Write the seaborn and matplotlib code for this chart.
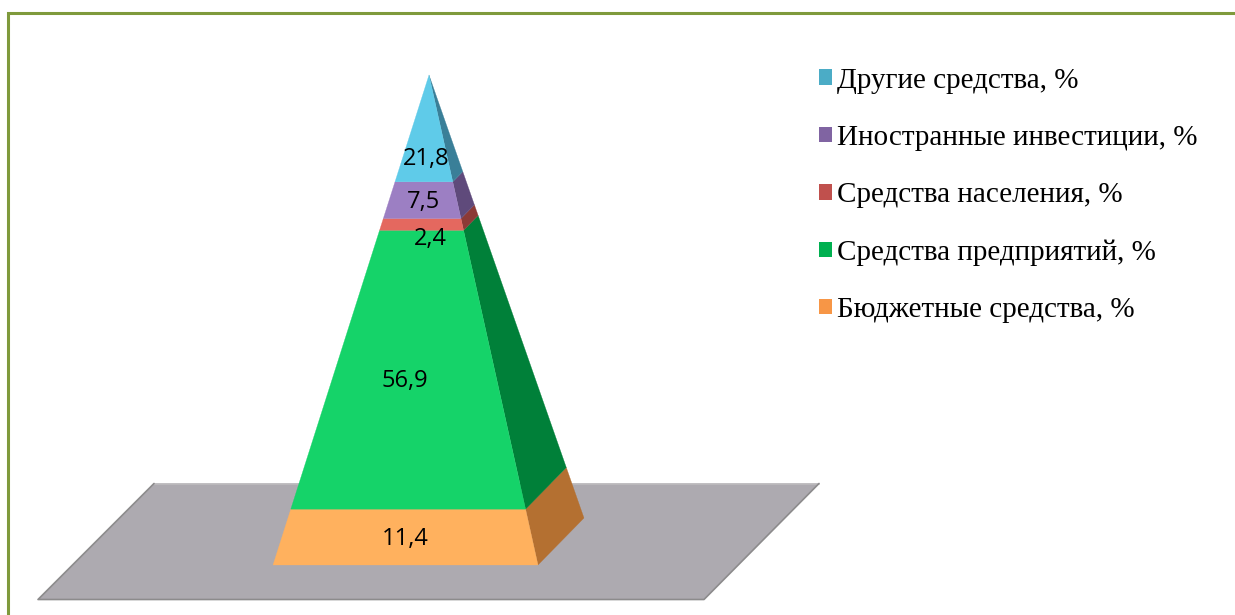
import numpy as np
import matplotlib
matplotlib.use("Agg")
import matplotlib.pyplot as plt
from matplotlib.patches import Patch, Polygon
import seaborn as sns

# ---- data (bottom to top of the pyramid) ----
categories = ["Бюджетные средства, %", "Средства предприятий, %", "Средства населения, %",
              "Иностранные инвестиции, %", "Другие средства, %"]
values = [11.4, 56.9, 2.4, 7.5, 21.8]
value_labels = ["11,4", "56,9", "2,4", "7,5", "21,8"]

# ---- style ----
front_colors = ["#FFB15E", "#15D369", "#E4685F", "#9C7FC3", "#5FCBE9"]
side_colors = ["#B47031", "#008039", "#8C3A36", "#5F4A7B", "#3A7F98"]
legend_colors = ["#F79646", "#00B050", "#C0504D", "#8064A2", "#4BACC6"]
label_x = [405, 405, 430, 424, 426]
label_y_px = [539, 381, 239, 202, 159]

W, H, DPI = 1235, 615, 100
Y0_PX, APEX_PX = 565, 75
PX_PER_PCT = (Y0_PX - APEX_PX) / 100
APEX_X, FL_X, FR_X, BR_X, BR_Y_PX = 429, 273, 538, 584, 518


def pct(y_px):
    return (Y0_PX - y_px) / PX_PER_PCT


sns.set_theme(style="white")
plt.rcParams["font.family"] = ["Open Sans", "DejaVu Sans"]

fig = plt.figure(figsize=(W / DPI, H / DPI), dpi=DPI, facecolor="white")
ax = fig.add_axes([0, 0, 1, 1])
ax.set_xlim(0, W)
ax.set_ylim(pct(H), pct(0))
ax.axis("off")

# outer frame, running off the right and bottom
ax.plot([8, 8, W + 5], [pct(H + 5), pct(12.5), pct(12.5)], color="#7F9A3C", lw=2.2,
        solid_joinstyle="miter", zorder=1)

# floor
floor_px = [(38, 599.5), (704, 599.5), (819, 483.5), (154, 483.5)]
floor = np.array([(x, pct(y)) for x, y in floor_px])
ax.add_patch(Polygon(floor, closed=True, facecolor="#ADAAB0", edgecolor="none", zorder=2))
ax.plot(floor[[3, 2], 0], floor[[3, 2], 1], color="#BDBBBE", lw=1.2, zorder=2)
ax.plot(floor[[3, 0, 1, 2], 0], floor[[3, 0, 1, 2], 1], color="#8C8B8C", lw=1.2, zorder=2)

# pyramid layers, from the cumulative shares
edges = np.concatenate([[0], np.cumsum(values)])
total = edges[-1]
back0 = pct(BR_Y_PX)


def lerp(a, b, t):
    return a + (b - a) * t


for i, (lo, hi) in enumerate(zip(edges[:-1], edges[1:])):
    t0, t1 = lo / total, hi / total
    front = [(lerp(FL_X, APEX_X, t0), 100 * t0), (lerp(FR_X, APEX_X, t0), 100 * t0),
             (lerp(FR_X, APEX_X, t1), 100 * t1), (lerp(FL_X, APEX_X, t1), 100 * t1)]
    side = [(lerp(FR_X, APEX_X, t0), 100 * t0), (lerp(BR_X, APEX_X, t0), lerp(back0, 100, t0)),
            (lerp(BR_X, APEX_X, t1), lerp(back0, 100, t1)), (lerp(FR_X, APEX_X, t1), 100 * t1)]
    ax.add_patch(Polygon(side, closed=True, facecolor=side_colors[i], edgecolor=side_colors[i],
                         lw=0.2, zorder=3))
    ax.add_patch(Polygon(front, closed=True, facecolor=front_colors[i], edgecolor=front_colors[i],
                         lw=0.2, zorder=4))
    ax.text(label_x[i], pct(label_y_px[i]), value_labels[i], ha="center", va="center",
            fontsize=17, color="black", zorder=5)

# legend (top layer first)
handles = [Patch(facecolor=c, edgecolor="none") for c in legend_colors[::-1]]
ax.legend(handles, categories[::-1], loc="upper left", bbox_to_anchor=(807 / W, 1 - 56 / H),
          frameon=False, labelcolor="black", prop={"family": "Liberation Serif", "size": 21},
          handlelength=0.45, handleheight=0.45, handletextpad=0.17,
          labelspacing=1.07, borderpad=0.4, borderaxespad=0)

fig.savefig("out.png", dpi=DPI, facecolor="white")
